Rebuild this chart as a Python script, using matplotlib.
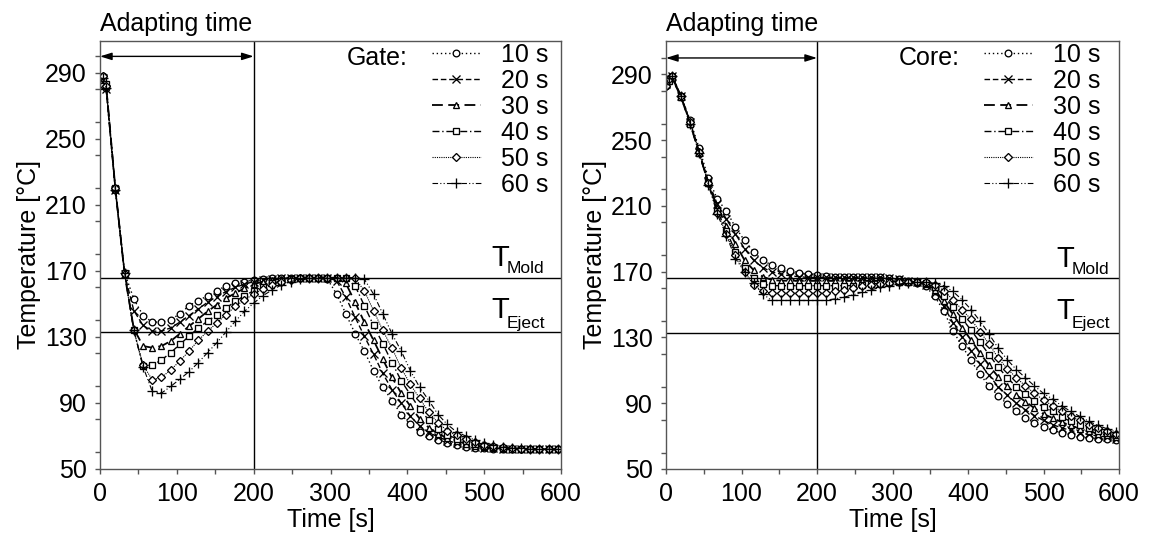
import matplotlib
matplotlib.use("Agg")
import matplotlib.pyplot as plt
from matplotlib.ticker import MultipleLocator

plt.rcParams['font.family'] = ['Liberation Sans', 'DejaVu Sans']

# ---------------- data ----------------
time_s = [0, 4, 8, 20, 32, 44, 56, 68, 80, 92, 104, 116, 128, 140, 152, 164, 176, 188, 200,
          212, 224, 236, 248, 260, 272, 284, 296, 308, 320, 332, 344, 356, 368, 380, 392, 404,
          416, 428, 440, 452, 464, 476, 488, 500, 512, 524, 536, 548, 560, 572, 584, 596]

series_labels = ["10 s", "20 s", "30 s", "40 s", "50 s", "60 s"]

gate_10 = [284, 288, 281, 219, 169, 153, 143, 139, 139, 140.5, 144, 149, 152, 155, 158, 161, 162.5, 163.5, 164.5,
           165, 165.5, 166, 166, 166, 166, 166, 165, 156, 144, 132, 121.5, 109.5, 99.5, 91.5, 83, 77, 72.5,
           70, 67.5, 66, 64.5, 63.5, 63, 62.5, 62.2, 62, 62, 62, 62, 62, 62, 62]
gate_20 = [285, 287, 280, 219, 168, 146, 137, 133.5, 133.5, 135.5, 139, 143, 147, 151, 154.5, 157.5, 160, 162, 163.5,
           164.5, 165, 165.5, 166, 166, 166, 166, 166, 164, 154, 142, 130.5, 119.5, 108, 98, 90, 82, 76,
           72, 69.5, 67.2, 65.7, 64.3, 63.4, 62.9, 62.5, 62.2, 62, 62, 62, 62, 62, 62]
gate_30 = [283, 286, 282, 220, 168, 135, 124.5, 123.5, 124.5, 127.5, 132, 136.5, 141, 145.5, 149.5, 153.5, 156.5, 159.5, 162,
           163.5, 164.5, 165.2, 165.7, 166, 166, 166, 166, 165.5, 162.5, 151, 139, 128, 116.5, 105.5, 96, 88, 80.5,
           75, 71.3, 68.8, 67, 65.3, 64.1, 63.3, 62.8, 62.4, 62.2, 62, 62, 62, 62, 62]
gate_40 = [282, 287, 283, 220, 169, 134, 112.5, 113, 116, 120.5, 125.5, 130.5, 135.5, 139.5, 143.5, 147.5, 151.5, 155, 158,
           160.5, 162.5, 164, 165, 165.7, 166, 166, 166, 166, 165.5, 161, 149, 137, 126, 114.5, 103.5, 95, 86.5,
           79.5, 74.2, 70.8, 68.3, 66.7, 65.1, 63.9, 63.2, 62.7, 62.4, 62.2, 62, 62, 62, 62]
gate_50 = [283, 288, 282, 220, 168, 134, 113, 104, 105.5, 110, 115.5, 121.5, 128, 133.5, 138.5, 143.5, 148.5, 152.5, 156,
           159, 161.5, 163.5, 164.5, 165.5, 166, 166, 166, 166, 166, 165.5, 158, 146, 134, 123.3, 111.2, 101.2, 92.8,
           84.3, 78, 73.2, 70.3, 68, 66.3, 64.7, 63.7, 63.1, 62.6, 62.3, 62.1, 62, 62, 62]
gate_60 = [284, 287, 281, 219, 169, 134, 112, 97, 96, 100, 104.5, 109, 114.5, 120.5, 126.5, 133, 139.5, 145.5, 150.5,
           155, 158.5, 161.5, 163.5, 165, 165.7, 166, 166, 166, 166, 165.8, 165, 156, 144, 132, 121.5, 109.5, 99.5,
           91.5, 83, 77, 72.5, 70, 67.5, 66, 64.5, 63.5, 63, 62.5, 62.2, 62, 62, 62]

core_10 = [283, 287, 289, 277, 262, 245, 227, 214, 207, 197, 189, 182, 177, 174, 172, 170.5, 169.5, 168.5, 168,
           167.5, 167, 167, 167, 166.5, 166.5, 166.5, 166, 165.5, 164.5, 163, 161, 155, 146, 134, 125, 116, 107.5,
           100.5, 94.5, 89.5, 85, 81, 78, 75.5, 73.5, 72, 70.5, 69.5, 69, 68.5, 68, 67.5]
core_20 = [284, 288, 289, 277, 261, 243, 225, 211, 202, 193, 184, 177, 172.5, 170, 168.5, 167.5, 167, 166.5, 166.5,
           166.5, 166.5, 166.5, 166.5, 166.5, 166.5, 166.5, 166, 165.5, 164.5, 163.5, 162, 157, 149, 139, 130.5, 122, 114,
           107, 100, 95, 90, 86, 82.5, 79.5, 77, 75, 73.5, 72, 71, 70, 69.5, 68.5]
core_30 = [285, 287, 288, 276, 260, 242, 224, 209, 198, 187, 177, 171, 167, 165, 164.5, 164.5, 164.5, 164.5, 164.5,
           164.5, 164.5, 164.5, 164.5, 164.5, 164.5, 164.5, 164.5, 164, 164, 163.5, 162.5, 159, 152, 144, 136, 128.5, 120.5,
           113, 106, 100.5, 95, 91, 87, 83.5, 81, 78.5, 76.5, 74.5, 73, 71.5, 70.5, 69.5]
core_40 = [284, 286, 288, 276, 260, 242, 224, 207, 195, 182, 172, 166, 162.5, 161.5, 161.5, 161.5, 161.5, 161.5, 161.5,
           161.5, 161.5, 161.5, 161.5, 162, 162.5, 163, 163.5, 163.5, 163.5, 163.5, 163, 160.5, 155.5, 148.5, 141.5, 134.5, 127,
           119.5, 112, 105.5, 100, 95.5, 91.5, 87.5, 85, 81.5, 79, 77, 75, 73, 72, 70.5]
core_50 = [283, 287, 289, 277, 261, 243, 224, 206, 193, 180, 170, 162, 158, 157, 157, 157, 157, 157, 157,
           157, 158, 159, 160, 161, 162, 162.5, 163, 163.5, 163.5, 163.5, 163.5, 162, 158.5, 153, 147, 141, 133.5,
           126, 117.5, 111, 105.5, 100.5, 96, 92, 88.5, 85, 82, 79.5, 77, 75, 73, 71.5]
core_60 = [284, 288, 289, 277, 260, 242, 223, 205, 192, 178, 170, 163, 156.5, 152.5, 152.5, 152.5, 152.5, 152.5, 152.5,
           152.5, 153.5, 154.5, 156, 157.5, 159, 160.5, 161.5, 162.5, 163, 163.5, 163.5, 163, 161.5, 158, 153, 147, 140,
           132, 123.5, 116.5, 110.5, 105.5, 100.5, 96, 92.5, 88.5, 85, 82, 79, 76.5, 74.5, 72.5]

gate_series = [gate_10, gate_20, gate_30, gate_40, gate_50, gate_60]
core_series = [core_10, core_20, core_30, core_40, core_50, core_60]

t_mold = 166
t_eject = 133
adapt_end = 200
arrow_level = 300

# ---------------- styles ----------------
styles = [
    dict(ls=(0, (1, 2)), marker='o', ms=4.8, lw=1.0),
    dict(ls=(0, (4, 2)), marker='x', ms=5.5, lw=1.0),
    dict(ls=(0, (6, 3)), marker='^', ms=5, lw=1.3),
    dict(ls=(0, (5, 2, 1, 2)), marker='s', ms=4.8, lw=1.0),
    dict(ls=(0, (1, 1)), marker='D', ms=4.3, lw=0.8),
    dict(ls=(0, (5, 2, 1, 2, 1, 2)), marker='+', ms=7.5, lw=0.8),
]

FS = 18

fig = plt.figure(figsize=(11.51, 5.35), dpi=100)
axL = fig.add_axes([100 / 1151, 66 / 535, 461 / 1151, 428.3 / 535])
axR = fig.add_axes([666 / 1151, 66 / 535, 453 / 1151, 428.3 / 535])


def draw(ax, series, title, ylim_top, legend_x, title_x, t_off):
    lines = []
    for vals, lab, st in zip(series, series_labels, styles):
        ln, = ax.plot(time_s, vals, color='black', linestyle=st['ls'], lw=st['lw'],
                      marker=st['marker'], ms=st['ms'],
                      mfc='white' if st['marker'] not in ('x', '+') else 'black',
                      mec='black', mew=0.95, label=lab)
        lines.append(ln)
    ax.set_xlim(0, 600)
    ax.set_ylim(50, ylim_top)
    ax.axhline(t_mold, color='black', lw=1.0)
    ax.axhline(t_eject, color='black', lw=1.0)
    ax.axvline(adapt_end, color='black', lw=1.0)
    ax.annotate('', xy=(0, arrow_level), xytext=(adapt_end, arrow_level),
                arrowprops=dict(arrowstyle='<|-|>,head_length=0.7,head_width=0.22', color='black',
                                lw=1.0, shrinkA=0, shrinkB=0))
    ax.xaxis.set_major_locator(MultipleLocator(100))
    ax.xaxis.set_minor_locator(MultipleLocator(50))
    ax.yaxis.set_minor_locator(MultipleLocator(20))
    ax.set_yticks([50, 90, 130, 170, 210, 250, 290])
    ax.tick_params(which='both', direction='out', length=3.5, width=1, color='#555555',
                   labelsize=FS, pad=6)
    for sp in ax.spines.values():
        sp.set_color('#555555')
        sp.set_linewidth(1.0)
    ax.set_xlabel('Time [s]', fontsize=FS, labelpad=1)
    ax.set_ylabel('Temperature [°C]', fontsize=FS, labelpad=3)
    ax.annotate('Adapting time', xy=(0, 1), xycoords='axes fraction', xytext=(0, 7),
                textcoords='offset points', fontsize=FS, ha='left', va='baseline')
    ax.text(title_x, 0.96, title, transform=ax.transAxes, fontsize=FS, ha='right', va='center')
    ax.legend(handles=lines, loc='upper left', bbox_to_anchor=(legend_x, 0.995), frameon=False,
              fontsize=FS, handlelength=1.95, handletextpad=0.8, labelspacing=0.08,
              borderpad=0, borderaxespad=0, markerscale=1.0)
    # T labels
    tx, sx = t_off
    ax.annotate('T', xy=(1, t_mold), xycoords=('axes fraction', 'data'), xytext=(tx, 8),
                textcoords='offset points', fontsize=21, ha='left', va='baseline')
    ax.annotate('Mold', xy=(1, t_mold), xycoords=('axes fraction', 'data'), xytext=(sx, 3),
                textcoords='offset points', fontsize=12.5, ha='left', va='baseline')
    ax.annotate('T', xy=(1, t_eject), xycoords=('axes fraction', 'data'), xytext=(tx, 10),
                textcoords='offset points', fontsize=21, ha='left', va='baseline')
    ax.annotate('Eject', xy=(1, t_eject), xycoords=('axes fraction', 'data'), xytext=(sx, 3),
                textcoords='offset points', fontsize=12.5, ha='left', va='baseline')


draw(axL, gate_series, 'Gate:', 309.5, 0.72, 0.668, (-50, -39))
draw(axR, core_series, 'Core:', 310.5, 0.702, 0.649, (-45, -34))

fig.savefig('out.png', dpi=100)
